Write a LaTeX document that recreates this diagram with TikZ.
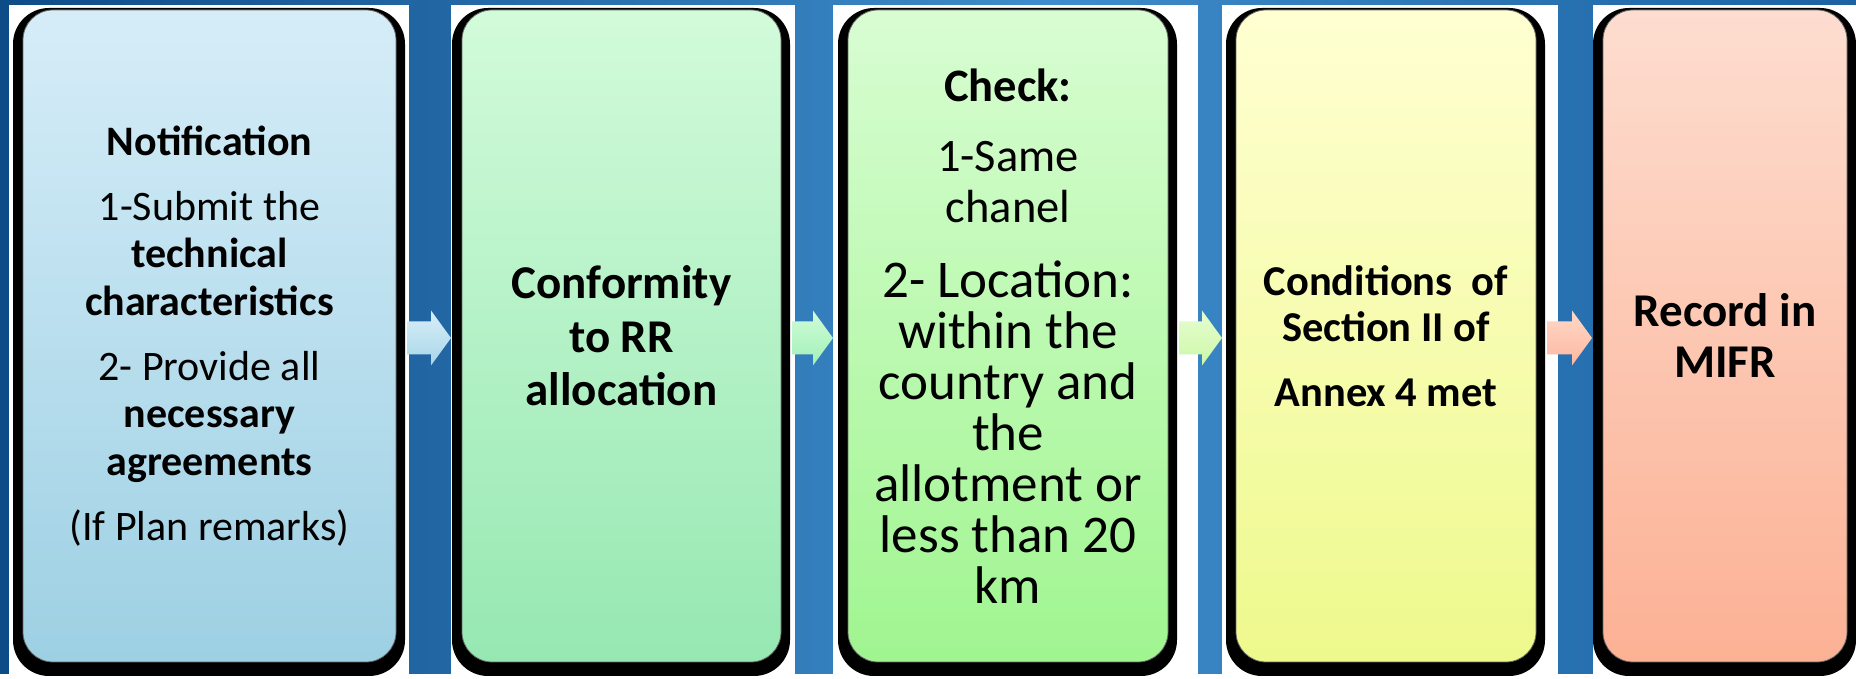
\documentclass[tikz,border=0pt]{standalone}
\usepackage{fontspec}
\setmainfont{Carlito}
\usepackage{xcolor}
\usetikzlibrary{calc,positioning}
\definecolor{bgdark}{HTML}{0E4C88}
\definecolor{bgmid}{HTML}{3E8CCB}
\definecolor{bgright}{HTML}{1C62A2}
\definecolor{c1top}{HTML}{D6EDF8}
\definecolor{c1bot}{HTML}{9DD0E3}
\definecolor{c2top}{HTML}{D2FBDA}
\definecolor{c2bot}{HTML}{96E8B2}
\definecolor{c3top}{HTML}{D8FDD2}
\definecolor{c3bot}{HTML}{A0F590}
\definecolor{c4top}{HTML}{FFFFD2}
\definecolor{c4bot}{HTML}{EEF98C}
\definecolor{c5top}{HTML}{FDDDD0}
\definecolor{c5bot}{HTML}{FCB194}
\definecolor{a1top}{HTML}{D8EEF8}
\definecolor{a1bot}{HTML}{A8D6E8}
\definecolor{a2top}{HTML}{D0FCD8}
\definecolor{a2bot}{HTML}{A2F0B8}
\definecolor{a3top}{HTML}{E6FDD0}
\definecolor{a3bot}{HTML}{CCF8A8}
\definecolor{a4top}{HTML}{FFD8C8}
\definecolor{a4bot}{HTML}{FCB8A0}
\pgfdeclarelayer{backdrop}
\pgfsetlayers{backdrop,main}
\tikzset{
  stage/.style={rounded corners=30pt, draw=black!60, line width=0.8pt, minimum height=652pt, align=center, inner sep=0pt, outer sep=0pt},
  stageshadow/.style={fill=black, rounded corners=36pt},
  panel/.style={fill=white},
  flow/.style={draw=none}
}
\newcommand{\bigline}{\fontsize{53}{50}\selectfont}
% block arrow from a box to the tip coordinate
\newcommand{\flowarrow}[3]{%
  \shade[flow, top color=#3top, bottom color=#3bot] let \p1=($(#1.east)+(11pt,0)$), \p2=(#2) in
    (\x1,\y2+16.5pt) -- (\x2-20pt,\y2+16.5pt) -- (\x2-20pt,\y2+27.5pt) -- (\x2,\y2)
    -- (\x2-20pt,\y2-27.5pt) -- (\x2-20pt,\y2-16.5pt) -- (\x1,\y2-16.5pt) -- cycle;}

\begin{document}
\begin{tikzpicture}[x=1pt, y=1pt, node distance=67pt]
    \useasboundingbox (0,0) rectangle (1856,679);

    \node [stage, top color=c1top, bottom color=c1bot, minimum width=373pt, font=\fontsize{42}{47.5}\selectfont] (notify) at (209.5,343)
      {\textbf{Notification}\\[17.5pt]
       1-Submit the\\ \textbf{technical}\\ \textbf{characteristics}\\[17.5pt]
       2- Provide all\\ \textbf{necessary}\\ \textbf{agreements}\\[17.5pt]
       (If Plan remarks)};
    \node [stage, top color=c2top, bottom color=c2bot, minimum width=319pt, font=\fontsize{47}{53.5}\selectfont\bfseries, right=66pt of notify] (conform)
      {Conformity\\ to RR\\ allocation};
    \node [stage, top color=c3top, bottom color=c3bot, minimum width=320pt, font=\fontsize{46.5}{51}\selectfont, right=of conform] (check)
      {\textbf{Check:}\\[19pt]
       1-Same\\ chanel\\[24pt]
       \bigline 2- Location:\\ \bigline within the\\ \bigline country and\\ \bigline the\\ \bigline allotment or\\ \bigline less than 20\\ \bigline km};
    \node [stage, top color=c4top, bottom color=c4bot, minimum width=300pt, font=\fontsize{42.5}{46}\selectfont\bfseries, right=68pt of check] (annex)
      {Conditions\ \ of\\ Section II of\\[19pt] Annex 4 met};
    \node [stage, top color=c5top, bottom color=c5bot, minimum width=244pt, font=\fontsize{47}{51}\selectfont\bfseries, right=of annex] (mifr)
      {Record in\\ MIFR};

    % arrow tips sit on the white panels
    \coordinate (tip1) at (451,341);
    \coordinate (tip2) at (833,341);
    \coordinate (tip3) at (1222,341);
    \coordinate (tip4) at (1592,341);

    \flowarrow{notify}{tip1}{a1}
    \flowarrow{conform}{tip2}{a2}
    \flowarrow{check}{tip3}{a3}
    \flowarrow{annex}{tip4}{a4}

    \begin{pgfonlayer}{backdrop}
      \fill[white] (0,0) rectangle (1856,679);
      \shade[left color=bgdark, right color=bgmid] (0,5) rectangle (1050,679);
      \shade[left color=bgmid, right color=bgright] (1050,5) rectangle (1856,679);
      \fill[panel] (9,0) rectangle (409,674);
      \fill[panel] (451,0) rectangle (795,674);
      \fill[panel] (833,0) rectangle (1198,674);
      \fill[panel] (1222,0) rectangle (1558,674);
      \fill[panel] (1593,0) rectangle (1856,674);
      \foreach \b in {notify,conform,check,annex,mifr}
        \fill[stageshadow] ($(\b.north west)+(-10,2)$) rectangle ($(\b.south east)+(9,-14)$);
    \end{pgfonlayer}
\end{tikzpicture}
\end{document}
